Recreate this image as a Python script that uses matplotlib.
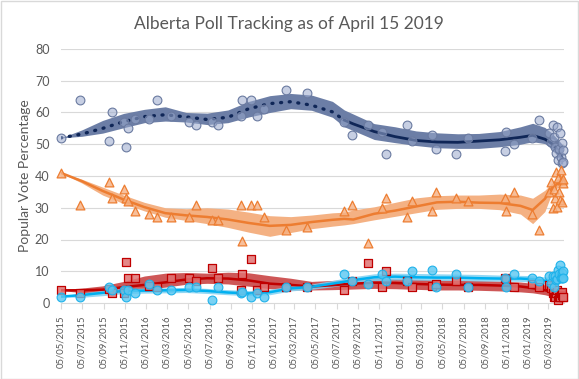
import numpy as np
import pandas as pd
import matplotlib
matplotlib.use("Agg")
import matplotlib.pyplot as plt
from matplotlib.patches import Rectangle

plt.rcParams['font.family'] = ['Lato', 'DejaVu Sans']

# ---------------- data ----------------
start_date = "2015-05-05"
# poll dates as day offsets from 5 May 2015
poll_days = [0, 56, 137, 148, 180, 188, 194, 214, 254, 275, 315, 369, 387, 434, 452,
             516, 521, 545, 564, 582, 647, 708, 814, 836, 883, 923, 934, 995, 1008,
             1067, 1078, 1136, 1170, 1276, 1279, 1302, 1354, 1373,
             1402, 1408, 1413, 1417, 1420, 1423, 1426, 1429, 1431, 1434, 1436, 1438,
             1439, 1441, 1443]
ucp_polls = [52, 64, 51, 60, 57, 49, 55, 58, 58, 64, 59, 57, 56, 57, 56,
             59, 64, 64, 59, 61, 67, 66, 57, 53, 56, 54, 47, 56, 51,
             53, 48.5, 47, 52, 48, 54, 50, 52, 57.5,
             53.6, 50.8, 56, 52.4, 49.2, 47.3, 55.3, 45, 48.4, 53.6, 46.1, 44,
             50.3, 48.2, 44.5]
ndp_polls = [41, 31, 38, 33, 36, 33, 32, 29, 28, 27, 27, 27, 31, 26, 26,
             31, 19.5, 31, 31, 27, 23, 24, 29, 31, 19, 30, 33, 27, 32,
             29, 35, 33, 32, 33, 29, 35, 28, 23,
             35, 38, 30, 36, 33, 41.4, 30.3, 39.3, 35, 32.4, 42, 38.7,
             31.7, 37.7, 39]
lib_polls = [4, 3, 4.5, 3, 3, 13, 8, 8, 5.5, 5, 8, 8, 7, 11, 8,
             4, 9, 14, 4, 5, 5, 5, 4, 7, 12.5, 5, 10, 7, 5,
             5.5, 6, 7, 5, 8, 7.5, 5, 6, 5,
             5.7, 4.6, 3, 2, 2, 3.1, 4, 0.9, 2, 2, 3, 2.5,
             3.6, 2, 2]
ap_polls = [2, 2, 5, 4, 4, 2, 4, 3, 6, 4, 4, 5, 5, 1, 5,
            3, 3.5, 2, 3, 2, 5, 5, 9, 7, 6, 9, 7, 7, 10,
            10.5, 5, 9, 5, 8, 5, 9, 8, 7,
            8.6, 6.2, 8.6, 5.1, 8.6, 7.2, 7.5, 10.4, 9, 12, 8, 9.4,
            7.8, 10, 8]

# trend lines and their shaded ranges
trend_days = [0, 60, 120, 180, 240, 300, 360, 420, 480, 540, 600, 660, 720, 780, 814,
              840, 900, 960, 1020, 1080, 1140, 1200, 1260, 1320, 1355, 1390, 1410, 1425, 1441]
ucp_trend = [52, 53.2, 55, 57.1, 58.7, 59.3, 58.6, 57.8, 58.5, 61.2, 62.8, 63.4, 62.3, 60.2, 57.6,
             56.4, 54, 52.4, 51.2, 50.7, 50.6, 51, 51.4, 52.2, 52.8, 51.6, 50.2, 48.5, 45.5]
ucp_low = [52, 52.5, 53.5, 55.2, 56.8, 57.3, 57, 56.2, 56.8, 58.6, 60, 61.2, 60.7, 58.5, 55.5,
           54.3, 51.5, 50.5, 49.6, 48.9, 48.7, 48.7, 49.2, 50, 50.8, 50.2, 48.5, 46.5, 43.5]
ucp_high = [52, 54.5, 57.5, 59.7, 61, 61.8, 60, 59.8, 60.8, 63.5, 65.3, 66, 65.5, 63.5, 60.8,
            59.5, 56.5, 55.5, 54.2, 53.6, 53.3, 53.4, 54, 55.5, 56.6, 55.3, 53.5, 51.8, 49.8]
ndp_trend = [41, 38.4, 35.3, 32.6, 30.2, 28.3, 27.6, 27.1, 26.3, 25.2, 24.3, 24.6, 25.5, 26.2, 26.5,
             26.3, 28.1, 29.1, 30.4, 31.7, 31.9, 31.6, 31.5, 30.6, 29.3, 32.8, 36.1, 37.5, 38.5]
ndp_low = [41, 37.8, 34, 31.3, 29, 27, 26, 25, 23.8, 22.3, 21, 22.2, 23.4, 24.2, 24.6,
           25, 26.2, 27.3, 28.4, 29.5, 29.8, 29.8, 29.4, 28, 25, 28.8, 34.5, 36.2, 37.2]
ndp_high = [41, 39, 36.5, 34, 31.7, 30, 29.7, 30, 29.6, 28.6, 27.5, 27.2, 27.7, 28.4, 28.6,
            29.3, 30.3, 31.7, 33.1, 33.8, 34, 34, 34.3, 34, 33, 35.5, 37.7, 39, 40]
lib_trend = [4, 4, 4.2, 5, 5.7, 6.5, 7.4, 7.8, 7.7, 7.1, 6.1, 5.7, 5.2, 5.6, 5.9,
             6.1, 6.4, 6.3, 6, 5.8, 5.7, 5.7, 5.5, 5.2, 4.7, 4, 3.5, 3, 2.4]
lib_low = [3.9, 3.3, 3, 3.4, 4.2, 5, 5.9, 6.2, 6, 5.3, 4.5, 4.1, 4.1, 4.2, 4.3,
           4.4, 4.6, 4.5, 4.3, 4.1, 4.1, 4, 3.8, 3.5, 3.2, 2.6, 2, 1.4, 0.8]
lib_high = [4.1, 4.7, 5.4, 6.8, 8.5, 9.4, 9.6, 9.4, 9.7, 9.5, 8.6, 7.8, 6.8, 7.1, 7.3,
            7.5, 7.8, 7.7, 7.5, 7.3, 7.2, 7.1, 6.9, 6.6, 6.2, 5.7, 5.2, 4.6, 4]
ap_trend = [2, 2.5, 3.2, 3.8, 3.9, 4, 4.1, 3.8, 3.3, 3, 3.4, 4.6, 5.1, 6.1, 6.7,
            7.2, 8.1, 8.3, 8.1, 8, 8, 7.8, 7.7, 7.7, 7.5, 7, 6.8, 7.3, 8.3]
ap_low = [1.9, 1.8, 2.3, 3, 3.1, 3.2, 3.3, 3, 2.6, 2.3, 2.6, 3.8, 4.3, 5.1, 5.7,
          6.2, 7, 7.3, 7.2, 7.1, 7.1, 6.9, 6.9, 6.8, 6.5, 5.9, 5.6, 6, 6.8]
ap_high = [2.1, 3.2, 4, 4.6, 4.7, 4.8, 4.9, 4.6, 4.2, 3.9, 4.3, 5.4, 6, 7.1, 7.8,
           8.3, 9.2, 9.4, 9.3, 9.2, 9.1, 9, 8.8, 8.7, 8.6, 8.2, 8.2, 8.9, 9.9]
ucp_dotted_until = 814

tick_labels = ['05/05/2015', '05/07/2015', '05/09/2015', '05/11/2015', '05/01/2016',
               '05/03/2016', '05/05/2016', '05/07/2016', '05/09/2016', '05/11/2016',
               '05/01/2017', '05/03/2017', '05/05/2017', '05/07/2017', '05/09/2017',
               '05/11/2017', '05/01/2018', '05/03/2018', '05/05/2018', '05/07/2018',
               '05/09/2018', '05/11/2018', '05/01/2019', '05/03/2019']
y_ticks = [0, 10, 20, 30, 40, 50, 60, 70, 80]

title = "Alberta Poll Tracking as of April 15 2019"
y_label = "Popular Vote Percentage"

# ---------------- drawing ----------------
base = np.datetime64(start_date)
pdates = base + np.array(poll_days).astype('timedelta64[D]')
tdates = base + np.array(trend_days).astype('timedelta64[D]')
tick_pos = pd.to_datetime(tick_labels, format='%d/%m/%Y')

fig = plt.figure(figsize=(5.79, 3.79), dpi=100)
ax = fig.add_axes([60.5 / 579, 1 - 303 / 379, (564 - 60.5) / 579, (303 - 49) / 379])

grey = '#595959'
grid = '#D9D9D9'

for y in y_ticks[1:]:
    ax.axhline(y, color=grid, lw=0.8, zorder=0)

# bands
ax.fill_between(tdates, ndp_low, ndp_high, color='#F4B183', lw=0, zorder=1)
ax.fill_between(tdates, ucp_low, ucp_high, color='#6C7EA6', lw=0, zorder=1)
ax.fill_between(tdates, lib_low, lib_high, color='#C94545', alpha=0.9, lw=0, zorder=1)
ax.fill_between(tdates, ap_low, ap_high, color='#7FD0F2', alpha=0.85, lw=0, zorder=1.1)

# trend lines
td = np.array(trend_days)
ut = np.array(ucp_trend)
m1 = td <= ucp_dotted_until
m2 = td >= ucp_dotted_until
ax.plot(tdates[m1], ut[m1], color='#0F2657', lw=2.4, ls=(0, (0.3, 2.3)),
        dash_capstyle='round', zorder=3)
ax.plot(tdates[m2], ut[m2], color='#0F2657', lw=2.0, zorder=3)
ax.plot(tdates, ndp_trend, color='#ED7D31', lw=1.8, zorder=3)
ax.plot(tdates, lib_trend, color='#C00000', lw=1.8, zorder=3)
ax.plot(tdates, ap_trend, color='#00B0F0', lw=1.8, zorder=3.1)

# poll markers
ax.scatter(pdates, ucp_polls, s=40, marker='o', facecolor=(0.60, 0.66, 0.80, 0.55),
           edgecolor='#6A7AA0', lw=0.8, zorder=4, clip_on=False)
ax.scatter(pdates, ndp_polls, s=40, marker='^', facecolor=(0.96, 0.69, 0.51, 0.8),
           edgecolor='#ED7D31', lw=0.9, zorder=4, clip_on=False)
ax.scatter(pdates, lib_polls, s=36, marker='s', facecolor=(0.88, 0.45, 0.45, 0.85),
           edgecolor='#C00000', lw=0.9, zorder=4, clip_on=False)
ax.scatter(pdates, ap_polls, s=40, marker='o', facecolor=(0.35, 0.78, 0.95, 0.8),
           edgecolor='#1FB2EA', lw=0.8, zorder=4.1, clip_on=False)

ax.set_ylim(0, 80)
ax.set_xlim(base - np.timedelta64(1, 'D'), base + np.timedelta64(1445, 'D'))
ax.set_yticks(y_ticks)
ax.set_xticks(tick_pos)
ax.set_xticklabels(tick_labels, rotation=90, fontsize=6.8, color=grey)
ax.tick_params(axis='y', length=0, labelsize=9, labelcolor=grey, pad=8)
ax.tick_params(axis='x', length=4, color=grid, pad=5)
for s in ['top', 'right', 'left']:
    ax.spines[s].set_visible(False)
ax.spines['bottom'].set_color(grid)
ax.spines['bottom'].set_linewidth(0.8)
ax.set_facecolor('none')

fig.text(25 / 579, 1 - 176 / 379, y_label, rotation=90, ha='center', va='center',
         fontsize=10, color=grey)
fig.text(289 / 579, 1 - 24 / 379, title, ha='center', va='center', fontsize=12.5, color=grey)

fig.patches.append(Rectangle((0.001, 0.001), 0.997, 0.997, transform=fig.transFigure,
                             fill=False, edgecolor='#D9D9D9', lw=1))

fig.savefig('out.png', dpi=100)
